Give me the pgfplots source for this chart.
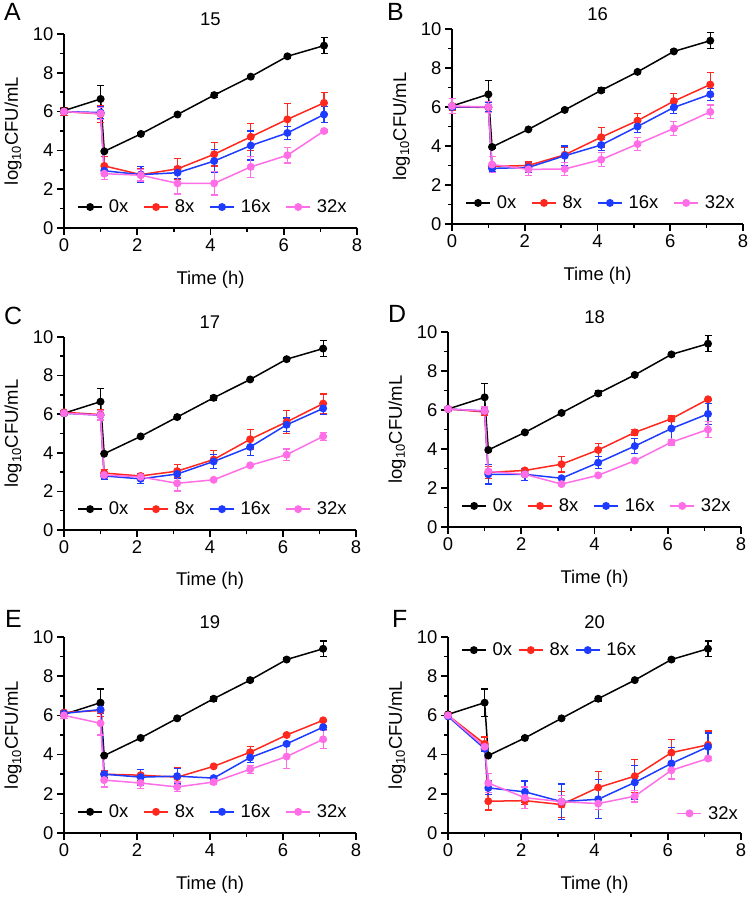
\documentclass[border=0pt]{standalone}
\usepackage{fontspec}
\setmainfont{Liberation Sans}
\usepackage{pgfplots}
\usepackage{pgfplotstable}
\pgfplotsset{compat=1.18}
\definecolor{cred}{RGB}{255,40,30}
\definecolor{cblue}{RGB}{30,60,255}
\definecolor{cpink}{RGB}{255,110,230}

% columns: time, 0x (k), 8x (r), 16x (b), 32x (p), each with SD
\pgfplotstableread{
x k ke r re b be p pe
0 6.05 0.10 6.00 0.20 6.00 0.10 6.00 0.10
1 6.65 0.70 5.88 0.45 5.95 0.30 5.90 0.30
1.1 3.95 0.05 3.20 0.50 2.95 0.25 2.80 0.30
2.1 4.85 0.05 2.75 0.30 2.75 0.40 2.72 0.30
3.1 5.85 0.05 3.05 0.55 2.85 0.30 2.30 0.55
4.1 6.85 0.12 3.80 0.60 3.45 0.60 2.30 0.60
5.1 7.80 0.05 4.70 0.70 4.25 0.75 3.15 0.55
6.1 8.85 0.10 5.60 0.80 4.90 0.35 3.75 0.40
7.1 9.40 0.40 6.45 0.55 5.85 0.40 5.00 0.05
}\tA
\pgfplotstableread{
x k ke r re b be p pe
0 6.05 0.10 6.00 0.15 6.00 0.10 6.05 0.40
1 6.65 0.70 5.98 0.25 6.00 0.25 6.00 0.30
1.1 3.95 0.05 2.95 0.15 2.85 0.15 3.05 0.40
2.1 4.85 0.05 3.00 0.20 2.90 0.25 2.80 0.30
3.1 5.85 0.05 3.55 0.40 3.50 0.50 2.82 0.35
4.1 6.85 0.12 4.45 0.50 4.05 0.30 3.30 0.35
5.1 7.80 0.05 5.30 0.35 5.00 0.30 4.10 0.35
6.1 8.85 0.10 6.30 0.40 5.98 0.30 4.90 0.35
7.1 9.40 0.40 7.15 0.60 6.65 0.30 5.75 0.35
}\tB
\pgfplotstableread{
x k ke r re b be p pe
0 6.05 0.10 6.10 0.10 6.05 0.10 6.05 0.10
1 6.65 0.70 5.98 0.25 5.95 0.25 5.95 0.25
1.1 3.95 0.05 2.95 0.20 2.80 0.20 2.85 0.20
2.1 4.85 0.05 2.80 0.10 2.65 0.25 2.75 0.10
3.1 5.85 0.05 3.05 0.35 2.90 0.25 2.42 0.40
4.1 6.85 0.12 3.65 0.45 3.55 0.35 2.60 0.05
5.1 7.80 0.05 4.70 0.50 4.30 0.45 3.35 0.05
6.1 8.85 0.10 5.60 0.60 5.45 0.35 3.90 0.30
7.1 9.40 0.40 6.55 0.50 6.30 0.30 4.85 0.20
}\tC
\pgfplotstableread{
x k ke r re b be p pe
0 6.05 0.10 6.05 0.10 6.05 0.10 6.05 0.10
1 6.65 0.70 5.90 0.20 5.95 0.20 5.95 0.20
1.1 3.95 0.05 2.80 0.30 2.70 0.50 2.85 0.10
2.1 4.85 0.05 2.90 0.10 2.70 0.30 2.70 0.10
3.1 5.85 0.05 3.22 0.40 2.50 0.05 2.20 0.05
4.1 6.85 0.12 3.95 0.35 3.30 0.30 2.65 0.05
5.1 7.80 0.05 4.85 0.15 4.15 0.40 3.40 0.05
6.1 8.85 0.10 5.55 0.15 5.05 0.55 4.35 0.15
7.1 9.40 0.40 6.55 0.05 5.80 0.55 5.00 0.40
}\tD
\pgfplotstableread{
x k ke r re b be p pe
0 6.05 0.10 6.15 0.10 6.10 0.10 6.00 0.15
1 6.65 0.70 6.25 0.30 6.30 0.20 5.60 0.60
1.1 3.95 0.05 3.00 0.20 3.00 0.15 2.70 0.35
2.1 4.85 0.05 2.95 0.30 2.85 0.40 2.55 0.30
3.1 5.85 0.05 2.85 0.50 2.90 0.40 2.35 0.25
4.1 6.85 0.12 3.40 0.05 2.80 0.05 2.60 0.10
5.1 7.80 0.05 4.12 0.30 3.85 0.25 3.25 0.20
6.1 8.85 0.10 5.00 0.05 4.55 0.05 3.90 0.60
7.1 9.40 0.40 5.75 0.05 5.40 0.10 4.78 0.45
}\tE
\pgfplotstableread{
x k ke r re b be p pe
0 6.05 0.10 6.00 0.15 5.95 0.10 6.00 0.10
1 6.65 0.70 4.55 0.35 4.30 0.15 4.40 0.20
1.1 3.95 0.05 1.62 0.45 2.30 0.35 2.55 0.50
2.1 4.85 0.05 1.65 0.20 2.10 0.55 1.80 0.55
3.1 5.85 0.05 1.45 0.65 1.60 0.90 1.60 0.30
4.1 6.85 0.12 2.32 0.80 1.72 1.00 1.50 0.30
5.1 7.80 0.05 2.90 0.85 2.58 0.85 1.88 0.30
6.1 8.85 0.10 4.10 0.65 3.55 0.80 3.20 0.45
7.1 9.40 0.40 4.50 0.70 4.40 0.70 3.80 0.10
}\tF

\pgfplotsset{
 base/.style={
  scale only axis, clip=false, anchor=south west,
  xmin=0,xmax=8,ymin=0,ymax=10,
  axis x line*=bottom, axis y line*=left,
  axis line style={-, line width=1.6bp, black},
  xtick={0,2,4,6,8}, minor xtick={1,3,5,7}, ytick={0,2,4,6,8,10}, minor ytick={1,3,5,7,9},
  tick align=outside, major tick length=7bp, minor tick length=4bp,
  tick style={line width=1.6bp, black},
  /pgf/number format/assume math mode=true,
  tick label style={font=\fontsize{18.5}{18.5}\selectfont},
  xlabel={Time (h)}, ylabel={log\textsubscript{10}CFU/mL},
  title style={font=\fontsize{18.5}{18.5}\selectfont, at={(0.5,1)}, anchor=south, inner sep=0pt, yshift=2bp},
  every axis x label/.style={at={(axis description cs:0.5,-0.265)}, anchor=center, font=\fontsize{18.5}{18.5}\selectfont},
  every axis y label/.style={at={(axis description cs:-0.174,0.5)}, rotate=90, anchor=center, font=\fontsize{18.5}{18.5}\selectfont},
  legend style={font=\fontsize{18.5}{18.5}\selectfont, draw=none, fill=none, inner sep=0pt,
    /tikz/every odd column/.append style={column sep=4bp},
    /tikz/every even column/.append style={column sep=13bp}, at={(0.045,0.108)}, anchor=west},
  legend columns=4,
  legend image code/.code={\draw[mark repeat=2,mark phase=2] plot coordinates {(0bp,0bp) (12bp,0bp) (24bp,0bp)};},
 },
 ser/.style={line width=1.5bp, mark=*, mark size=3.2bp, mark options={solid},
   error bars/y dir=both, error bars/y explicit,
   error bars/error bar style={line width=1.2bp},
   error bars/error mark options={rotate=90, mark size=3.5bp, line width=1.2bp}},
}

\newcommand{\panel}[6]{%
 \begin{axis}[base, at={(#1bp,#2bp)}, width=#3bp, height=#4bp, title={#6}]
  \addplot[black,ser] table[x=x,y=k,y error=ke]{#5};
  \addlegendentry{0x}
  \addplot[cred,ser] table[x=x,y=r,y error=re]{#5};
  \addlegendentry{8x}
  \addplot[cblue,ser] table[x=x,y=b,y error=be]{#5};
  \addlegendentry{16x}
  \addplot[cpink,ser] table[x=x,y=p,y error=pe]{#5};
  \addlegendentry{32x}
 \end{axis}}

\begin{document}
\begin{tikzpicture}
\path[use as bounding box] (0,0) rectangle (750bp,897bp);
\panel{64}{669}{293}{194}{\tA}{15}
\panel{452}{673}{291}{195}{\tB}{16}
\panel{64}{367}{292}{193}{\tC}{17}
\panel{448}{370}{293}{195}{\tD}{18}
\panel{64}{64}{292}{196}{\tE}{19}
\begin{axis}[base, at={(448bp,64bp)}, width=293bp, height=196bp, title={20},
  legend style={at={(0.044,0.933)}, anchor=west, /tikz/every even column/.append style={column sep=4bp}}]
  \addplot[black,ser] table[x=x,y=k,y error=ke]{\tF};
  \addlegendentry{0x}
  \addplot[cred,ser] table[x=x,y=r,y error=re]{\tF};
  \addlegendentry{8x}
  \addplot[cblue,ser] table[x=x,y=b,y error=be]{\tF};
  \addlegendentry{16x}
  \addplot[cpink,ser,forget plot] table[x=x,y=p,y error=pe]{\tF};
\end{axis}
\begin{axis}[base, at={(448bp,64bp)}, width=293bp, height=196bp, hide axis,
  xlabel={}, ylabel={}, legend style={at={(0.78,0.10)}, anchor=west}]
  \addlegendimage{cpink, line width=1.5bp, mark=*, mark size=3.2bp}
  \addlegendentry{32x}
\end{axis}
\begin{scope}[every node/.style={anchor=north west, inner sep=0pt, font=\fontsize{25}{25}\selectfont}]
\node at (4bp,894bp) {A};
\node at (387bp,894bp) {B};
\node at (4bp,590bp) {C};
\node at (388bp,592bp) {D};
\node at (5bp,287bp) {E};
\node at (392bp,287bp) {F};
\end{scope}
\end{tikzpicture}
\end{document}
